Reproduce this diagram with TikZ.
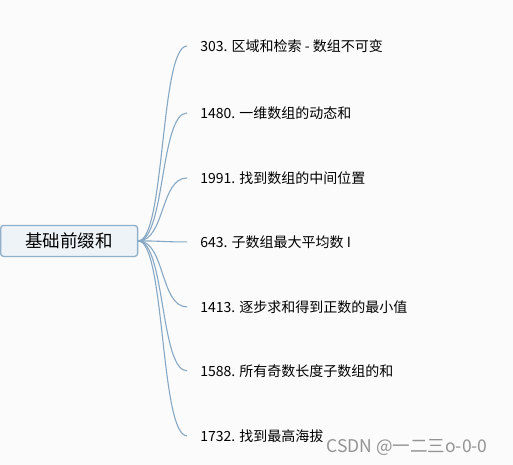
\documentclass[tikz,border=0pt]{standalone}
\usepackage{fontspec}
\setmainfont{Noto Sans CJK SC}
\usepackage{tikz}
\usetikzlibrary{positioning}
\definecolor{bgcol}{HTML}{FBFBFB}
\definecolor{linecol}{HTML}{86A8C4}
\definecolor{rootfill}{HTML}{EEF3F8}
\definecolor{rootline}{HTML}{90B0CA}

\begin{document}
\begin{tikzpicture}[x=1pt,y=-1pt,
  rootbox/.style={draw=rootline,fill=rootfill,line width=1.3pt,rounded corners=3pt,
    minimum width=137pt,minimum height=31pt,inner sep=0pt,font=\fontsize{17.5}{20}\selectfont},
  leaf/.style={anchor=west,inner xsep=13pt,inner ysep=0pt,font=\fontsize{14}{16}\selectfont},
  branch/.style={draw=linecol,line width=1.1pt}]
  \fill[bgcol] (0,0) rectangle (513,465);
  \node[rootbox] (root) at (69,241) {基础前缀和};
  \foreach \y/\name/\txt in {46/p303/{303. 区域和检索 - 数组不可变},
      113/p1480/{1480. 一维数组的动态和},
      178/p1991/{1991. 找到数组的中间位置},
      242/p643/{643. 子数组最大平均数 I},
      307/p1413/{1413. 逐步求和得到正数的最小值},
      371/p1588/{1588. 所有奇数长度子数组的和},
      436/p1732/{1732. 找到最高海拔}} {
    \node[leaf] (\name) at (187,\y) {\txt};
    \draw[branch] (root.east) .. controls (165,241) and (160,\y) .. (\name.west);
  }
  \node[text=gray!85,font=\fontsize{17.5}{20}\selectfont] (mark) at (407,448) {CSDN @一二三o-0-0};
\end{tikzpicture}
\end{document}
